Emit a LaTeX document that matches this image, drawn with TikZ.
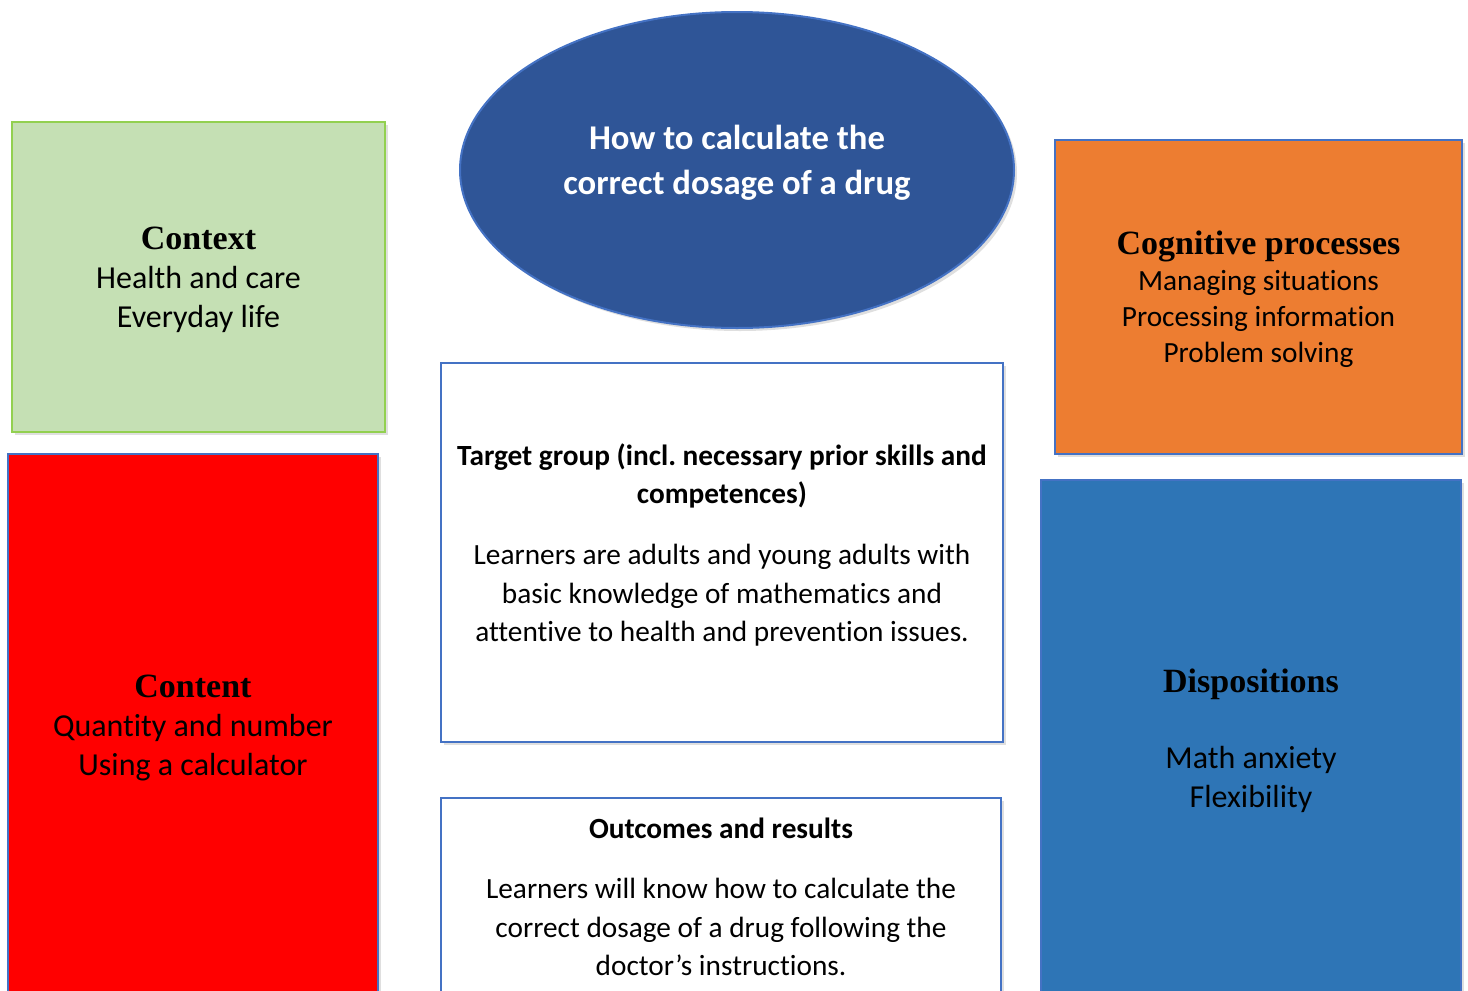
\documentclass[tikz,border=0pt]{standalone}
\usepackage{fontspec}
\setmainfont{Carlito}[Ligatures=NoCommon]
\newfontfamily\serifhead{Liberation Serif}
\usetikzlibrary{shapes.geometric,shadows}

\definecolor{outline}{HTML}{4472C4}
\definecolor{goalblue}{HTML}{2F5597}
\definecolor{ctxgreen}{HTML}{C5E0B4}
\definecolor{ctxedge}{HTML}{92D050}
\definecolor{cogorange}{HTML}{ED7D31}
\definecolor{dispblue}{HTML}{2E75B6}

\newcommand{\headline}[1]{{\serifhead\bfseries\fontsize{34}{39}\selectfont\rule{0pt}{29pt}#1}}

\begin{document}
\begin{tikzpicture}[x=1pt, y=-1pt,
    panel/.style={draw=outline, line width=2.5pt, rectangle, align=center, inner sep=0pt,
        drop shadow={opacity=0.25, shadow xshift=3pt, shadow yshift=-3pt}},
    light/.style={font=\fontsize{32}{39}\selectfont},
    plain/.style={font=\fontsize{29.3}{38.5}\selectfont}]
    \useasboundingbox (0,0) rectangle (1468,991);
    \clip (0,0) rectangle (1468,991);

    % Nodes
    \node (goal) at (737,170) [ellipse, draw=outline, fill=goalblue, line width=2pt, align=center,
        minimum width=554pt, minimum height=316pt, text=white, inner sep=0pt,
        font=\bfseries\fontsize{34.7}{45}\selectfont,
        drop shadow={opacity=0.25, shadow xshift=3pt, shadow yshift=-3pt}]
        {\rule{0pt}{34pt}How to calculate the\\ correct dosage of a drug\\[-15pt]\mbox{}};

    \node (context) at (198.5,277) [panel, draw=ctxedge, fill=ctxgreen, light,
        minimum width=373pt, minimum height=310pt]
        {\headline{Context}\\ Health and care\\ Everyday life};

    \node (content) at (193,725) [panel, fill=red, light,
        minimum width=370pt, minimum height=542pt]
        {\headline{Content}\\ Quantity and number\\ Using a calculator};

    \node (target) at (722,552.5) [panel, fill=white, plain,
        minimum width=562pt, minimum height=379pt]
        {\rule{0pt}{30pt}\textbf{Target group (incl.\ necessary prior skills and}\\ \textbf{competences)}\\[22.5pt]
         Learners are adults and young adults with\\ basic knowledge of mathematics and\\
         attentive to health and prevention issues.\\[-10pt]\mbox{}};

    \node (outcomes) at (721,897) [panel, fill=white, plain,
        minimum width=560pt, minimum height=198pt]
        {\textbf{Outcomes and results}\\[21.5pt]
         Learners will know how to calculate the\\ correct dosage of a drug following the\\
         doctor’s instructions.};

    \node (cognitive) at (1258.5,297) [panel, fill=cogorange,
        font=\fontsize{29.3}{36}\selectfont,
        minimum width=407pt, minimum height=314pt]
        {\headline{Cognitive processes}\\ Managing situations\\ Processing information\\ Problem solving};

    \node (dispositions) at (1251,738) [panel, fill=dispblue, light,
        minimum width=420pt, minimum height=516pt]
        {\headline{Dispositions}\\[37pt] Math anxiety\\ Flexibility};
\end{tikzpicture}
\end{document}
